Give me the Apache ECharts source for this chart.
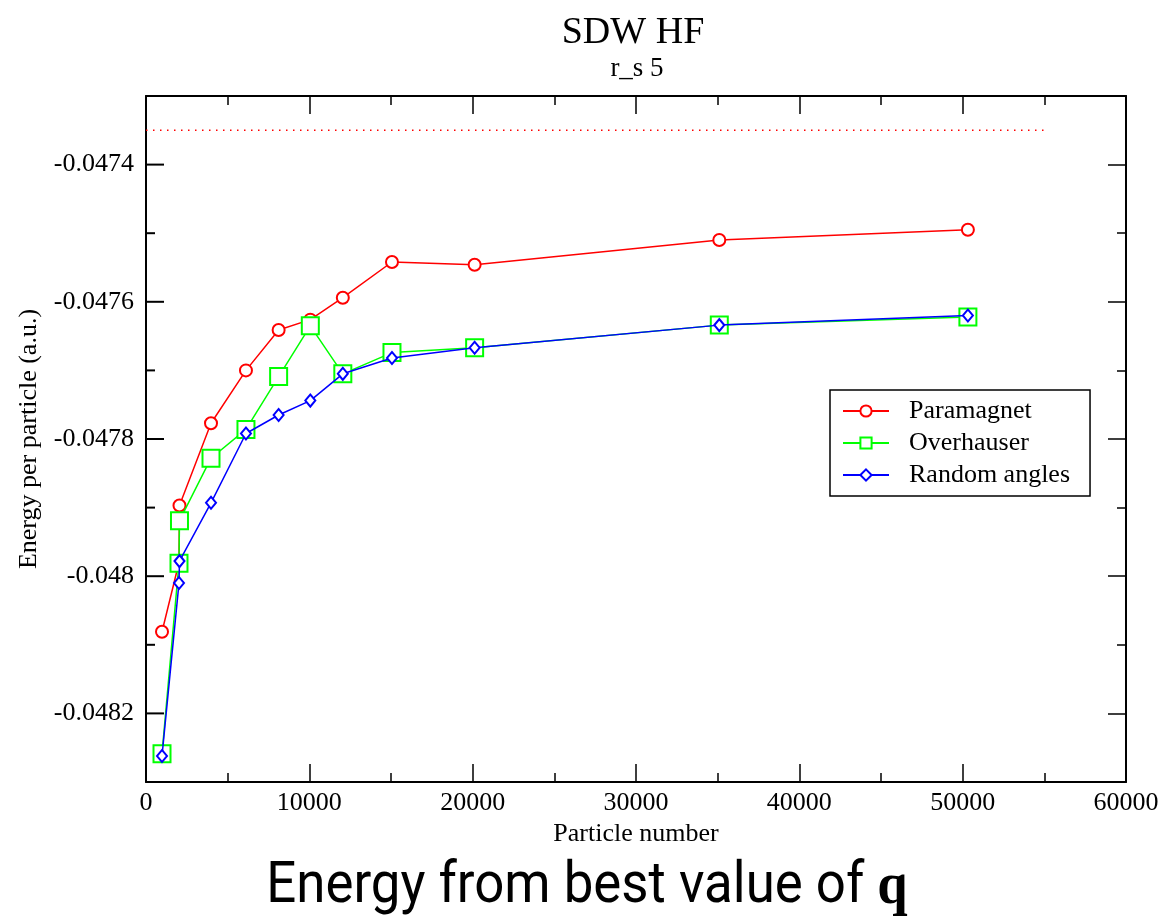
<!DOCTYPE html>
<html>
<head>
<meta charset="utf-8">
<script src="https://cdn.jsdelivr.net/npm/echarts@6/dist/echarts.min.js"></script>
<style>
html,body{margin:0;padding:0;background:#fff;}
#chart{width:1166px;height:924px;}
</style>
</head>
<body>
<div id="chart"></div>
<script>
// ---- data ----
const particleNumbers = [980, 2020, 2050, 3980, 6120, 8120, 10060, 12050, 15060, 20120, 35100, 50320];
const paramagnet   = [-0.048081, -0.047980, -0.047897, -0.047777, -0.047700, -0.047641, -0.047626, -0.047594, -0.047542, -0.047546, -0.047510, -0.047495];
const overhauser   = [-0.048259, -0.047981, -0.047919, -0.047828, -0.047786, -0.047709, -0.047635, -0.047705, -0.047674, -0.047667, -0.047634, -0.047622];
const randomAngles = [-0.048262, -0.048010, -0.047978, -0.047893, -0.047792, -0.047765, -0.047744, -0.047705, -0.047682, -0.047667, -0.047634, -0.047620];
const referenceX = [0, 55000];
const referenceY = [-0.04735, -0.04735];
const yMajorTicks = [-0.0482, -0.0480, -0.0478, -0.0476, -0.0474];
const yMinorTicks = [-0.0483, -0.0481, -0.0479, -0.0477, -0.0475, -0.0473];
const seriesNames = ['Paramagnet', 'Overhauser', 'Random angles'];

const SERIF = 'Liberation Serif';
const pairs = (xs, ys) => xs.map((x, i) => [x, ys[i]]);

const chart = echarts.init(document.getElementById('chart'));
const tickStyle = {color: '#000', width: 1.5};
const axisLineStyle = {show: true, onZero: false, lineStyle: {color: '#000', width: 2}};
const Y_MIN = -0.0483, Y_MAX = -0.0473, Y_STEP = 0.0002;
const MAJOR_LEN = 18, MINOR_LEN = 9;

const yLeftLabels = {
  type: 'value', position: 'left', min: Y_MIN, max: Y_MAX, interval: Y_STEP,
  splitLine: {show: false}, axisLine: axisLineStyle,
  axisTick: {show: false}, minorTick: {show: false},
  name: 'Energy per particle (a.u.)', nameLocation: 'middle', nameGap: 104,
  nameTextStyle: {fontFamily: SERIF, fontSize: 26, color: '#000'},
  axisLabel: {show: true, fontFamily: SERIF, fontSize: 26, color: '#000', margin: 12,
    customValues: yMajorTicks, formatter: v => String(+(+v).toFixed(5))}
};
// regular ticks (counted from min) land on the odd 1e-4 steps -> short;
// minor ticks land midway, on the labelled values -> long.
const yRight = {
  type: 'value', position: 'right', min: Y_MIN, max: Y_MAX, interval: Y_STEP,
  splitLine: {show: false}, axisLine: axisLineStyle,
  axisTick: {show: true, inside: true, length: MINOR_LEN, lineStyle: tickStyle},
  minorTick: {show: true, splitNumber: 2, length: MAJOR_LEN, lineStyle: tickStyle},
  axisLabel: {show: false}
};

function xAxisDef(pos, withLabels) {
  const ax = {
    type: 'value', position: pos, min: 0, max: 60000, interval: 10000,
    splitLine: {show: false}, axisLine: axisLineStyle,
    axisTick: {show: true, inside: true, length: MAJOR_LEN, lineStyle: tickStyle},
    minorTick: {show: true, splitNumber: 2, length: MINOR_LEN, lineStyle: tickStyle},
    axisLabel: {show: false}
  };
  if (withLabels) {
    ax.name = 'Particle number';
    ax.nameLocation = 'middle';
    ax.nameGap = 34;
    ax.nameTextStyle = {fontFamily: SERIF, fontSize: 26, color: '#000'};
    ax.axisLabel = {show: true, fontFamily: SERIF, fontSize: 26, color: '#000', margin: 8,
      formatter: v => String(v)};
  }
  return ax;
}

// left-frame tick marks: [x at frame, y value, length]
const leftTickData = yMajorTicks.map(v => [0, v, MAJOR_LEN])
  .concat(yMinorTicks.map(v => [0, v, MINOR_LEN]));

chart.setOption({
  animation: false,
  backgroundColor: '#fff',
  title: [
    {text: 'SDW HF', left: 628, top: 9, textAlign: 'center',
     textStyle: {fontFamily: SERIF, fontSize: 38, fontWeight: 'normal', color: '#000'}},
    {text: 'r_s 5', left: 632, top: 50, textAlign: 'center',
     textStyle: {fontFamily: SERIF, fontSize: 27, fontWeight: 'normal', color: '#000'}}
  ],
  grid: {left: 146, right: 40, top: 96, bottom: 142, containLabel: false},
  legend: {
    data: seriesNames,
    left: 830, top: 390, orient: 'vertical',
    backgroundColor: '#fff', borderColor: '#000', borderWidth: 1.5, borderRadius: 0,
    padding: [8, 20, 8, 12], itemGap: 6, itemWidth: 46, itemHeight: 14,
    textStyle: {fontFamily: SERIF, fontSize: 26, color: '#000', padding: [0, 0, 0, 15]}
  },
  xAxis: [xAxisDef('bottom', true), xAxisDef('top', false)],
  yAxis: [yLeftLabels, yRight],
  series: [
    {name: 'reference', type: 'line', data: pairs(referenceX, referenceY), symbol: 'none',
     lineStyle: {color: '#ff0000', width: 1.5, type: [1.5, 5.5]}, silent: true, z: 1},
    {name: seriesNames[0], type: 'line', data: pairs(particleNumbers, paramagnet),
     symbol: 'emptyCircle', symbolSize: 12, showAllSymbol: true,
     color: '#ff0000', lineStyle: {color: '#ff0000', width: 1.5},
     itemStyle: {color: '#ff0000', borderWidth: 1.5}, z: 2},
    {name: seriesNames[1], type: 'line', data: pairs(particleNumbers, overhauser),
     symbol: 'emptyRect', symbolSize: 17, showAllSymbol: true,
     color: '#00ff00', lineStyle: {color: '#00ff00', width: 1.5},
     itemStyle: {color: '#00ff00', borderWidth: 1.5}, z: 3},
    {name: seriesNames[2], type: 'line', data: pairs(particleNumbers, randomAngles),
     symbol: 'emptyDiamond', symbolSize: [10, 12], showAllSymbol: true,
     color: '#0000ff', lineStyle: {color: '#0000ff', width: 1.5},
     itemStyle: {color: '#0000ff', borderWidth: 1.5}, z: 4},
    {name: 'leftTicks', type: 'custom', data: leftTickData, silent: true, clip: false, z: 20,
     encode: {x: 0, y: 1},
     renderItem: (params, api) => {
       const p = api.coord([api.value(0), api.value(1)]);
       const len = api.value(2);
       return {type: 'line',
         shape: {x1: p[0], y1: p[1], x2: p[0] + len, y2: p[1]},
         style: {stroke: '#000', lineWidth: 2}};
     }}
  ],
  graphic: [
    {type: 'text', id: 'caption', x: 587, y: 887, scaleX: 0.91, z: 10,
     style: {
       text: '{a|Energy from best value of }{b|q}',
       textAlign: 'center', textVerticalAlign: 'middle',
       rich: {
         a: {fontFamily: 'Roboto, sans-serif', fontSize: 58, fill: '#000'},
         b: {fontFamily: SERIF, fontSize: 60, fontWeight: 'bold', fill: '#000'}
       }
     }}
  ]
});
</script>
</body>
</html>
